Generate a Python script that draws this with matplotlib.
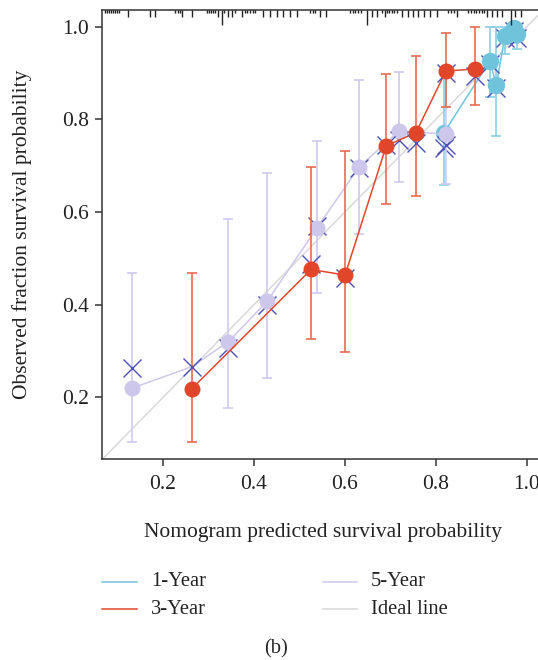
import matplotlib
matplotlib.use("Agg")
import matplotlib.pyplot as plt
from matplotlib.lines import Line2D

# ---------------- data ----------------
# 1-Year
x1 = [0.817, 0.919, 0.933, 0.952, 0.972, 0.978]
y1 = [0.770, 0.926, 0.874, 0.980, 0.997, 0.985]
lo1 = [0.658, 0.849, 0.763, 0.940, 0.965, 0.951]
hi1 = [0.903, 1.000, 1.000, 1.000, 1.000, 1.000]
bc1 = [0.738, 0.920, 0.868, 0.975, 0.990, 0.975]

# 3-Year
x3 = [0.2627, 0.5256, 0.6004, 0.691, 0.756, 0.822, 0.887]
y3 = [0.218, 0.476, 0.464, 0.743, 0.771, 0.904, 0.909]
lo3 = [0.103, 0.326, 0.297, 0.617, 0.635, 0.827, 0.830]
hi3 = [0.468, 0.698, 0.732, 0.898, 0.937, 0.987, 1.000]
bc3 = [0.266, 0.488, 0.457, 0.745, 0.750, 0.900, 0.894]

# 5-Year
x5 = [0.132, 0.3434, 0.4288, 0.538, 0.6318, 0.7194, 0.8228]
y5 = [0.220, 0.320, 0.407, 0.565, 0.698, 0.775, 0.768]
lo5 = [0.103, 0.178, 0.241, 0.425, 0.552, 0.664, 0.661]
hi5 = [0.468, 0.585, 0.685, 0.754, 0.885, 0.902, 0.903]
bc5 = [0.263, 0.306, 0.400, 0.570, 0.695, 0.755, 0.745]
# 5-Year curve vertices
line5_x = [0.132, 0.2627, 0.3434, 0.4288, 0.538, 0.6318, 0.7194, 0.8228]
line5_y = [0.220, 0.266, 0.320, 0.407, 0.565, 0.698, 0.775, 0.768]

# rug of predicted values along the top axis
rug_short = [0.0723, 0.0768, 0.0812, 0.0856, 0.0900, 0.0944, 0.0988, 0.1032,
             0.2264, 0.2323, 0.2380, 0.2961, 0.3005, 0.3049, 0.3093, 0.3144,
             0.3342, 0.3584, 0.3803, 0.3854, 0.3914, 0.3973, 0.4030,
             0.5233, 0.5292, 0.5350, 0.6113, 0.6173, 0.6230, 0.6290, 0.6349,
             0.6811, 0.6921, 0.6972, 0.7031, 0.7089, 0.7141,
             0.8277, 0.8336, 0.8396, 0.8717, 0.8777, 0.8836, 0.8893, 0.8953,
             0.9012, 0.9069]
rug_mid = [0.1236, 0.1714, 0.1824, 0.2424, 0.2631, 0.3203, 0.3436, 0.3511,
           0.3731, 0.4206, 0.4354, 0.4501, 0.4646, 0.4794, 0.4941, 0.5453,
           0.5585, 0.6591, 0.6701, 0.6884, 0.7251, 0.7397, 0.7507, 0.7617,
           0.7749, 0.7874, 0.8022, 0.8462, 0.9122, 0.9232, 0.9342, 0.9452,
           0.9744, 0.9876]
rug_long = [0.3291, 0.6481, 0.9657]

xticks = [0.2, 0.4, 0.6, 0.8, 1.0]
yticks = [0.2, 0.4, 0.6, 0.8, 1.0]
legend_labels = ["1-Year", "3-Year", "5-Year", "Ideal line"]

# ---------------- style ----------------
FONT = "Liberation Serif"
FS = 15.5
FSL = 14.8
C1, C1e = "#6fc4dc", "#86cfe4"
C3, C3e = "#e2462a", "#ea6a50"
C5, C5e = "#cdc7eb", "#d0caef"
CI = "#d9d9d9"
CX = "#4d50b5"

plt.rcParams["font.family"] = [FONT, "DejaVu Serif"]

W, H = 538, 660
fig = plt.figure(figsize=(W / 100, H / 100), dpi=100)
L, R, T, B = 102.3, 538, 10, 459
ax = fig.add_axes([L / W, 1 - B / H, (R - L) / W, (B - T) / H])
ax.set_xlim(0.0664, 1.0247)
ax.set_ylim(0.067, 1.036)

ax.plot([0, 1.2], [0, 1.2], color=CI, lw=1.1, zorder=1)


def series(xs, ys, lo, hi, bc, c, ce, lx=None, ly=None, z=2, ms=11.5):
    ax.vlines(xs, lo, hi, color=ce, lw=1.2, zorder=z)
    ax.plot(xs, lo, ls="none", marker="_", ms=7.5, mew=1.2, color=ce, zorder=z)
    ax.plot(xs, hi, ls="none", marker="_", ms=7.5, mew=1.2, color=ce, zorder=z)
    ax.plot(lx if lx is not None else xs, ly if ly is not None else ys,
            color=c, lw=1.1, zorder=z + 0.1)
    ax.plot(xs, bc, ls="none", marker="x", ms=13.5, mew=1.0, color=CX,
            zorder=z + 0.2)
    ax.plot(xs, ys, ls="none", marker="o", ms=ms, mew=0, color=c,
            zorder=z + 0.3)


series(x1, y1, lo1, hi1, bc1, C1, C1e, z=2, ms=12.5)
series(x5, y5, lo5, hi5, bc5, C5, C5e, line5_x, line5_y, z=3)
series(x3, y3, lo3, hi3, bc3, C3, C3e, z=4)

# rug on top axis
ax.vlines(rug_short, 1.036 - 3.5 / 463.5, 1.036, color="#222222", lw=1.0,
          zorder=6, clip_on=False)
ax.vlines(rug_mid, 1.036 - 7 / 463.5, 1.036, color="#222222", lw=1.0,
          zorder=6, clip_on=False)
ax.vlines(rug_long, 1.036 - 15 / 463.5, 1.036, color="#222222", lw=1.0,
          zorder=6, clip_on=False)

for s in ["left", "bottom", "top"]:
    ax.spines[s].set_color("#333333")
    ax.spines[s].set_linewidth(1.1)
ax.spines["right"].set_visible(False)

ax.set_xticks(xticks)
ax.set_xticklabels([f"{v:.1f}" for v in xticks])
ax.set_yticks(yticks)
ax.set_yticklabels([f"{v:.1f}" for v in yticks])
ax.tick_params(axis="both", direction="out", length=5, width=1.1,
               color="#333333", labelsize=FS, labelcolor="#222222")
ax.tick_params(axis="x", pad=6.5)
ax.tick_params(axis="y", pad=4.5)

fig.text(21.7 / W, 1 - 234.5 / H, "Observed fraction survival probability",
         rotation=90, ha="center", va="center", fontsize=FS, color="#222222")
fig.text(322.6 / W, 1 - 533 / H, "Nomogram predicted survival probability",
         ha="center", va="center", fontsize=FS, color="#222222")

# legend (two columns)
leg_colors = [C1, C3, C5, CI]
leg_pos = [(102.3, 581.7), (102.3, 609.3), (322.6, 581.7), (322.6, 609.3)]
for lab, col, (hx, hy) in zip(legend_labels, leg_colors, leg_pos):
    fig.add_artist(Line2D([hx / W, (hx + 34.3) / W], [1 - hy / H, 1 - hy / H],
                          color=col, lw=1.1, transform=fig.transFigure))
    fig.text((hx + 48.5) / W, 1 - hy / H, lab, ha="left", va="center",
             fontsize=FSL, color="#222222")

fig.text(276 / W, 1 - 649 / H, "(b)", ha="center", va="center", fontsize=FSL,
         color="#222222")

fig.savefig("out.png", dpi=100)
